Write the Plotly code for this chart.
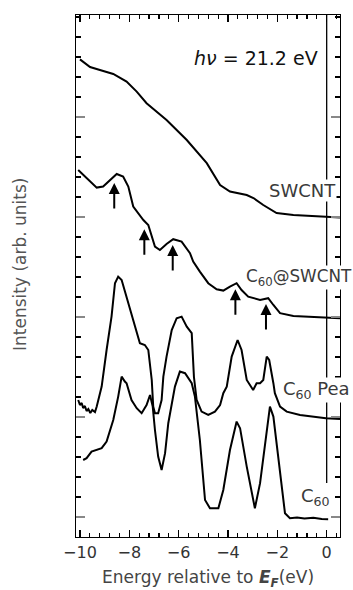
import plotly.graph_objects as go

# ---------------- data (energy in eV, intensity in arb. units) ----------------
swcnt_e = [-10.0, -9.59, -9.19, -8.65, -8.11, -7.70, -7.30, -6.49, -5.67, -4.86,
           -4.32, -3.92, -3.24, -2.97, -2.57, -2.03, -1.35, -0.03, 0.54]
swcnt_i = [23.88, 23.5, 23.35, 23.15, 22.77, 22.27, 21.69, 20.85, 19.85, 18.69,
           17.6, 17.27, 17.1, 16.95, 16.6, 16.2, 16.1, 16.0, 15.98]

c60swcnt_e = [-10.07, -9.73, -9.32, -9.06, -8.51, -8.25, -8.04, -7.84, -7.43, -7.23,
              -7.09, -6.96, -6.76, -6.49, -6.22, -5.88, -5.54, -5.41, -5.14, -4.80,
              -4.46, -4.19, -3.92, -3.65, -3.45, -3.18, -2.70, -2.37, -2.16, -1.89,
              -1.35, -0.03, 0.54]
c60swcnt_i = [18.35, 17.94, 17.47, 17.52, 18.15, 18.02, 17.52, 16.52, 15.85, 15.6,
              15.02, 14.52, 14.35, 14.65, 14.89, 14.77, 14.19, 13.77, 13.27, 12.69,
              12.39, 12.32, 12.52, 12.69, 12.35, 12.02, 11.85, 11.94, 11.6, 11.19,
              11.05, 10.97, 10.94]

pea_e = [-10.07, -10.0, -9.93, -9.87, -9.8, -9.73, -9.66, -9.58, -9.5, -9.39, -9.32,
         -9.19, -9.12, -8.92, -8.72, -8.58, -8.45, -8.31, -8.11, -7.84, -7.57, -7.37,
         -7.23, -7.09, -7.03, -6.96, -6.83, -6.69, -6.62, -6.49, -6.28, -6.08, -5.88,
         -5.67, -5.47, -5.38, -5.27, -5.07, -4.80, -4.53, -4.32, -4.19, -4.05, -3.85,
         -3.61, -3.45, -3.24, -2.98, -2.84, -2.70, -2.57, -2.43, -2.33, -2.16, -2.10,
         -1.89, -1.62, -1.08, -0.03, 0.54]
pea_i = [6.85, 6.6, 6.7, 6.45, 6.55, 6.3, 6.4, 6.2, 6.35, 6.25, 6.52,
         7.19, 7.52, 9.35, 11.02, 12.69, 13.02, 12.85, 12.02, 10.85, 9.69, 9.6,
         9.35, 7.85, 6.52, 6.19, 6.19, 6.85, 8.02, 9.02, 10.35, 10.94, 11.02,
         10.52, 10.19, 8.0, 6.85, 6.27, 6.1, 6.27, 6.6, 7.19, 7.52, 9.02,
         9.85, 9.35, 7.85, 7.35, 7.69, 7.69, 7.85, 9.02, 8.85, 7.69, 7.19,
         6.52, 6.27, 6.1, 5.94, 5.9]

c60_e = [-9.87, -9.73, -9.53, -9.32, -9.12, -8.92, -8.65, -8.45, -8.31, -8.18,
         -8.11, -7.91, -7.70, -7.50, -7.30, -7.16, -7.05, -6.96, -6.83, -6.69,
         -6.55, -6.42, -6.28, -6.15, -5.95, -5.74, -5.47, -5.34, -5.14, -4.93,
         -4.73, -4.39, -4.19, -3.92, -3.65, -3.51, -3.24, -2.91, -2.70, -2.43,
         -2.30, -2.16, -1.96, -1.69, -1.49, -1.2, -0.9, -0.54, -0.2, 0.06]
c60_i = [3.85, 3.94, 4.27, 4.35, 4.44, 4.77, 5.85, 7.02, 8.02, 7.77,
         7.69, 6.85, 6.44, 6.19, 6.6, 7.1, 6.52, 5.35, 4.02, 3.35,
         4.19, 5.69, 6.69, 7.52, 8.27, 8.19, 7.69, 7.02, 4.85, 1.85,
         1.44, 1.44, 2.35, 4.35, 5.77, 5.44, 3.52, 1.44, 2.69, 5.35,
         6.52, 6.02, 4.02, 1.19, 0.94, 0.98, 0.92, 0.96, 0.9, 0.89]

arrow_x = [-8.61, -7.39, -6.24, -3.70, -2.46]
arrow_y = [17.7, 15.39, 14.6, 12.39, 11.65]

xtick_vals = [-10, -8, -6, -4, -2, 0]
xtick_text = ["\u221210", "\u22128", "\u22126", "\u22124", "\u22122", "0"]
y_major_ticks = [1, 6, 11, 16, 21]

FONT = "DejaVu Sans, Verdana, sans-serif"

fig = go.Figure()
for e, i in [(swcnt_e, swcnt_i), (c60swcnt_e, c60swcnt_i), (pea_e, pea_i), (c60_e, c60_i)]:
    fig.add_trace(go.Scatter(x=e, y=i, mode="lines",
                             line=dict(color="black", width=2), showlegend=False,
                             hoverinfo="skip"))

# Fermi level line
fig.add_shape(type="line", x0=0, x1=0, y0=2.7, y1=26.1, xref="x", yref="y",
              line=dict(color="black", width=1.3), layer="below")

anns = []
for ax_, ay_ in zip(arrow_x, arrow_y):
    anns.append(dict(x=ax_, y=ay_, xref="x", yref="y", ax=0, ay=27, text="",
                     showarrow=True, arrowhead=2, arrowsize=1.1, arrowwidth=2,
                     arrowcolor="black"))

lab_font = dict(family=FONT, size=18, color="#3a3a3a")
anns += [
    dict(x=-0.27, y=23.95, xref="x", yref="y", text="<i>h\u03bd</i> = 21.2 eV",
         showarrow=False, xanchor="right", yanchor="middle",
         font=dict(family=FONT, size=19, color="#111")),
    dict(x=0.4, y=17.35, xref="x", yref="y", text="SWCNT", showarrow=False,
         xanchor="right", yanchor="middle", font=lab_font, bgcolor="white", borderpad=0),
    dict(x=-3.33, y=13.0, xref="x", yref="y", text="C<sub>60</sub>@SWCNT", showarrow=False,
         xanchor="left", yanchor="middle", font=dict(family=FONT, size=16.8, color="#3a3a3a"),
         bgcolor="white", borderpad=0),
    dict(x=-1.83, y=7.35, xref="x", yref="y", text="C<sub>60</sub> Pea", showarrow=False,
         xanchor="left", yanchor="middle", font=lab_font, bgcolor="white", borderpad=0),
    dict(x=-1.08, y=2.0, xref="x", yref="y", text="C<sub>60</sub>", showarrow=False,
         xanchor="left", yanchor="middle", font=lab_font, bgcolor="white", borderpad=0),
    dict(x=(20 - 76) / 264, y=(537 - 265) / 522, xref="paper", yref="paper",
         text="Intensity (arb. units)",
         textangle=-90, showarrow=False, xanchor="center", yanchor="middle",
         font=dict(family=FONT, size=17, color="#555")),
    dict(x=0.5, y=-(578 - 537) / 522, xref="paper", yref="paper",
         text="Energy relative to <b><i>E</i></b><sub><b><i>F</i></b></sub>(eV)",
         showarrow=False, xanchor="center", yanchor="middle",
         font=dict(family=FONT, size=17, color="#444")),
]

fig.update_layout(
    width=353, height=590,
    margin=dict(l=76, r=13, t=15, b=53),
    paper_bgcolor="white", plot_bgcolor="white",
    annotations=anns,
    xaxis=dict(range=[-10.16, 0.54], tickvals=xtick_vals, ticktext=xtick_text,
               ticks="inside", ticklen=7, tickwidth=1.2, tickcolor="black",
               showline=True, linecolor="black", linewidth=1.3, mirror="allticks",
               showgrid=False, zeroline=False,
               tickfont=dict(family=FONT, size=16, color="#333"),
               minor=dict(dtick=0.4, tick0=-10, ticks="inside", ticklen=4,
                          tickwidth=1.2, tickcolor="black", showgrid=False)),
    yaxis=dict(range=[0, 26.1], tickvals=y_major_ticks, showticklabels=False,
               ticks="inside", ticklen=9, tickwidth=1.8, tickcolor="#888",
               showline=True, linecolor="black", linewidth=1.3, mirror="allticks",
               showgrid=False, zeroline=False,
               minor=dict(dtick=1, tick0=0, ticks="inside", ticklen=5,
                          tickwidth=1.2, tickcolor="black", showgrid=False)),
)

fig.write_html("out.html", config={"displayModeBar": False, "staticPlot": True},
               post_script="document.body.style.margin='0';document.body.style.overflow='hidden';")
